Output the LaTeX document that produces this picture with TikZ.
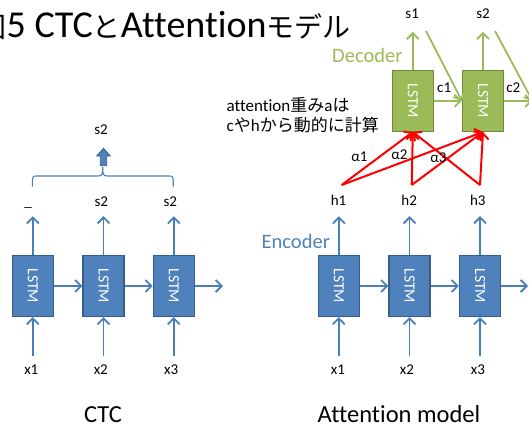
\documentclass[tikz,border=0pt]{standalone}
\usepackage{fontspec}
\setmainfont{Carlito}[Ligatures=NoCommon]
\newfontfamily\jpf{Noto Sans CJK JP}
\usetikzlibrary{arrows.meta}
\definecolor{bluefill}{HTML}{4F81BD}
\definecolor{blueedge}{HTML}{385D8A}
\definecolor{bluearrow}{HTML}{4A7EBB}
\definecolor{greenfill}{HTML}{9BBB59}
\definecolor{greenedge}{HTML}{71893F}
\definecolor{greenarrow}{HTML}{9BBB59}
\begin{document}
\begin{tikzpicture}[x=1pt,y=-1pt,
  lstm/.style={draw=blueedge,fill=bluefill,line width=1.2pt,minimum width=41pt,minimum height=61pt,inner sep=0pt,text=white,font=\fontsize{15.5}{18}\selectfont},
  dlstm/.style={lstm,draw=greenedge,fill=greenfill},
  lbl/.style={inner sep=0pt,text height=9.5pt,text depth=0pt,font=\fontsize{15}{18}\selectfont,anchor=base},
  barr/.style={draw=bluearrow,line width=1.8pt,-{Straight Barb[length=6pt,width=12pt]}},
  garr/.style={barr,draw=greenarrow},
  rarr/.style={barr,draw=red,line width=2pt},
  big/.style={inner sep=0pt,font=\fontsize{24.5}{28}\selectfont,anchor=base}
]
\useasboundingbox (0,0) rectangle (529,428);

% title
\node[anchor=base west,inner sep=0pt,font=\fontsize{38}{40}\selectfont] (title) at (6.5,37.3) {5 CTC{\jpf\fontsize{28}{30}\selectfont と}Attention{\jpf\fontsize{28}{30}\selectfont モデル}};
\node[anchor=base east,inner sep=0pt,font=\jpf\fontsize{28}{30}\selectfont] (zu) at (title.base west) {図};

% ---------- CTC ----------
\node[lstm] (c1) at (32.8,286) {\rotatebox{-90}{LSTM}};
\node[lstm] (c2) at (103.5,286) {\rotatebox{-90}{LSTM}};
\node[lstm] (c3) at (173.8,286) {\rotatebox{-90}{LSTM}};
\coordinate (cnext) at (223,286);

\node[lbl] (cs1) at (28,206) {\_};
\node[lbl] (cs2) at (101.3,206) {s2};
\node[lbl] (cs3) at (170.3,206) {s2};
\node[lbl] (cx1) at (31.3,374) {x1};
\node[lbl] (cx2) at (100.8,374) {x2};
\node[lbl] (cx3) at (171.2,374) {x3};

\foreach \i in {1,2,3}{
  \draw[barr,shorten >=10pt] (c\i.north) -- (c\i.north |- cs\i.south);
  \draw[barr,shorten <=8.5pt] (c\i.south |- cx\i.north) -- (c\i.south);
}
\draw[barr] (c1.east) -- (c2.west);
\draw[barr] (c2.east) -- (c3.west);
\draw[barr] (c3.east) -- (cnext);

% brace and block arrow
\draw[bluearrow,line width=1.1pt] (32.3,186.7) .. controls (32.3,176) .. (37,176) -- (98,176) .. controls (102.7,176) and (102.7,174) .. (102.7,167) .. controls (102.7,174) and (102.7,176) .. (107.4,176) -- (168.6,176) .. controls (173.3,176) .. (173.3,186.7);
\filldraw[fill=bluefill,draw=blueedge,line width=0.8pt] (100.3,165.7) -- (100.3,156) -- (96.7,156) -- (103.5,148.3) -- (110.3,156) -- (106.7,156) -- (106.7,165.7) -- cycle;
\node[lbl] (ctop) at (101,134) {s2};

\node[big] (ctc) at (103,422.7) {CTC};

% ---------- Attention: encoder ----------
\node[lstm] (e1) at (338.8,286) {\rotatebox{-90}{LSTM}};
\node[lstm] (e2) at (409.5,286) {\rotatebox{-90}{LSTM}};
\node[lstm] (e3) at (480,286) {\rotatebox{-90}{LSTM}};
\coordinate (enext) at (528,286);

\node[lbl] (h1) at (338.5,205) {h1};
\node[lbl] (h2) at (409.2,205) {h2};
\node[lbl] (h3) at (477.8,205) {h3};
\node[lbl] (ex1) at (338,374) {x1};
\node[lbl] (ex2) at (407,374) {x2};
\node[lbl] (ex3) at (477.8,374) {x3};

\draw[barr,shorten >=11pt] (e1.north) -- (e1.north |- h1.south);
\draw[barr,shorten >=11pt] (e2.north) -- (e2.north |- h2.south);
\draw[barr,shorten >=11pt] (e3.north) -- (e3.north |- h3.south);
\foreach \i in {1,2,3}{
  \draw[barr,shorten <=8.5pt] (e\i.south |- ex\i.north) -- (e\i.south);
}
\draw[barr] (e1.east) -- (e2.west);
\draw[barr] (e2.east) -- (e3.west);
\draw[barr] (e3.east) -- (enext);

\node[anchor=base west,inner sep=0pt,text=bluefill,font=\fontsize{20.5}{24}\selectfont] (enc) at (261.5,248.3) {Encoder};

% ---------- decoder ----------
\node[dlstm] (d1) at (412.8,100.8) {\rotatebox{-90}{LSTM}};
\node[dlstm] (d2) at (483,100.8) {\rotatebox{-90}{LSTM}};
\coordinate (dnext) at (532.5,100.8);
\coordinate (g1) at (426,31);
\coordinate (g2) at (495,31);

\node[lbl] (s1) at (412.2,18.3) {s1};
\node[lbl] (s2) at (483,18.3) {s2};
\draw[garr,shorten >=13.4pt] (d1.north) -- (d1.north |- s1.south);
\draw[garr,shorten >=13.4pt] (d2.north) -- (d2.north |- s2.south);
\draw[garr] (d1.east) -- (d2.west);
\draw[garr] (d2.east) -- (dnext);
\draw[garr] (g1) -- (d2.west);
\draw[garr] (g2) -- (dnext);
\node[lbl] (c1l) at (444.2,92.7) {c1};
\node[lbl] (c2l) at (513.3,92.7) {c2};

\node[anchor=base west,inner sep=0pt,text=greenfill,font=\fontsize{20.5}{24}\selectfont] (dec) at (332,62) {Decoder};

% attention weights
\coordinate (r1) at (341.7,185);
\coordinate (r2) at (411.7,185);
\coordinate (r3) at (480,185);
\foreach \i in {1,2,3}{
  \draw[rarr] (r\i) -- (d1.south);
  \draw[rarr] (r\i) -- (d2.south);
}
\node[lbl] (a1) at (359.3,161.7) {α1};
\node[lbl] (a2) at (399.3,159.3) {α2};
\node[lbl] (a3) at (438.3,162.3) {α3};

\node[anchor=base west,inner sep=0pt,font=\fontsize{17}{20}\selectfont] (att1) at (226.5,111.5) {attention{\jpf 重み}a{\jpf は}};
\node[anchor=base west,inner sep=0pt,font=\fontsize{17}{20}\selectfont] (att2) at (226.5,131) {c{\jpf や}h{\jpf から動的に計算}};

\node[big] (attm) at (399,422.7) {Attention model};
\end{tikzpicture}
\end{document}
